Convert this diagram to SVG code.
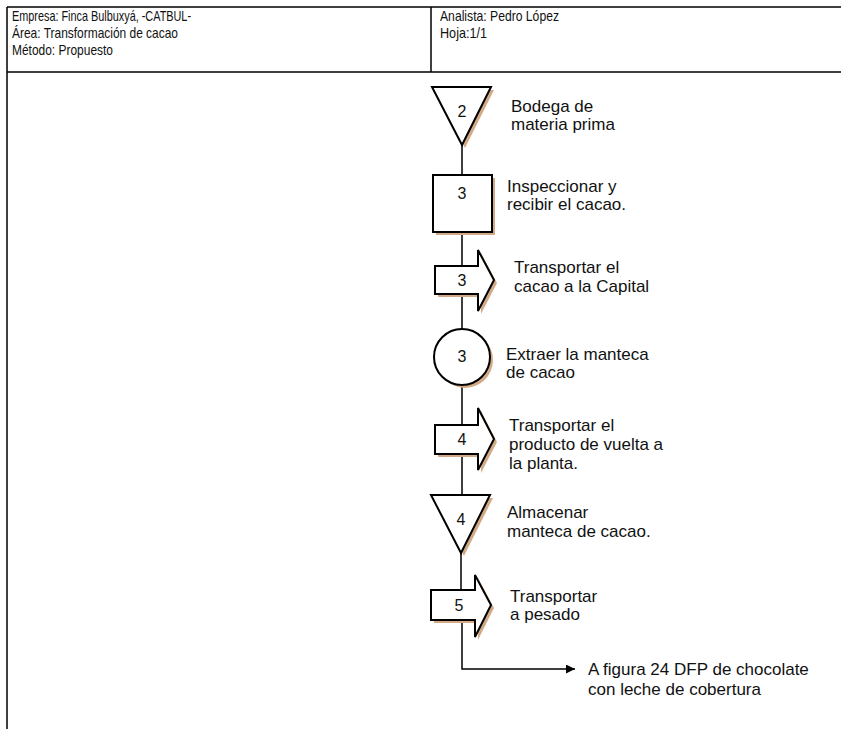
<svg xmlns="http://www.w3.org/2000/svg" width="841" height="729" viewBox="0 0 841 729">
<defs>
<style>
.frame{stroke:#000;stroke-width:1.5;fill:none}
.hdr{font-family:"Liberation Sans",Arial,sans-serif;font-size:14.5px;fill:#111}
.lbl{font-family:"Liberation Sans",Arial,sans-serif;font-size:17px;fill:#111}
.num{font-family:"Liberation Sans",Arial,sans-serif;font-size:16px;fill:#111;text-anchor:middle}
.shape{fill:#fff;stroke:#000;stroke-width:2}
.shadow{fill:#d2aa86;stroke:none}
.conn{stroke:#000;stroke-width:1.5;fill:none}
</style>
<marker id="ah" viewBox="0 0 10 10" refX="10" refY="5" markerWidth="9" markerHeight="9" markerUnits="userSpaceOnUse" orient="auto">
<path d="M0,0 L10,5 L0,10 z" fill="#000"/>
</marker>
</defs>
<rect width="841" height="729" fill="#fff"/>
<g id="header">
<path class="frame" d="M7,7 H841 M7,72 H841 M7,7 V729 M431,7 V72"/>
<text class="hdr" x="12" y="21" textLength="179" lengthAdjust="spacingAndGlyphs">Empresa: Finca Bulbuxyá, -CATBUL-</text>
<text class="hdr" x="12" y="38" textLength="166" lengthAdjust="spacingAndGlyphs">Área: Transformación de cacao</text>
<text class="hdr" x="12" y="55" textLength="101" lengthAdjust="spacingAndGlyphs">Método: Propuesto</text>
<text class="hdr" x="440" y="21" textLength="119" lengthAdjust="spacingAndGlyphs">Analista: Pedro López</text>
<text class="hdr" x="440" y="38" textLength="47" lengthAdjust="spacingAndGlyphs">Hoja:1/1</text>
</g>
<g id="connectors">
<path class="conn" d="M462,145 V175 M462,232 V266 M462,294 V329 M462,385 V425 M462,454 V495 M461,553 V590"/>
<path class="conn" d="M462,620 V669 H575" marker-end="url(#ah)"/>
</g>
<g id="n1">
<path class="shadow" d="M435,90 H494 L465,148 z"/>
<path class="shape" d="M432,87 H491 L462,145 z"/>
<text class="num" x="462" y="117">2</text>
<text class="lbl" x="511" y="112">Bodega de</text>
<text class="lbl" x="511" y="130">materia prima</text>
</g>
<g id="n2">
<rect class="shadow" x="436" y="178" width="59" height="57"/>
<rect class="shape" x="433" y="175" width="59" height="57"/>
<text class="num" x="462" y="199">3</text>
<text class="lbl" x="507" y="192">Inspeccionar y</text>
<text class="lbl" x="507" y="210">recibir el cacao.</text>
</g>
<g id="n3">
<path class="shadow" d="M438,269 H481 V253 L497,283 L481,314 V297 H438 z"/>
<path class="shape" d="M435,266 H478 V250 L494,280 L478,311 V294 H435 z"/>
<text class="num" x="462" y="286">3</text>
<text class="lbl" x="514" y="273">Transportar el</text>
<text class="lbl" x="514" y="292">cacao a la Capital</text>
</g>
<g id="n4">
<circle class="shadow" cx="465" cy="360" r="28"/>
<circle class="shape" cx="462" cy="357" r="28"/>
<text class="num" x="462" y="362">3</text>
<text class="lbl" x="506" y="360">Extraer la manteca</text>
<text class="lbl" x="506" y="378">de cacao</text>
</g>
<g id="n5">
<path class="shadow" d="M438,428 H481 V411 L497,442 L481,473 V457 H438 z"/>
<path class="shape" d="M435,425 H478 V408 L494,439 L478,470 V454 H435 z"/>
<text class="num" x="462" y="445">4</text>
<text class="lbl" x="509" y="431">Transportar el</text>
<text class="lbl" x="509" y="450">producto de vuelta a</text>
<text class="lbl" x="509" y="469">la planta.</text>
</g>
<g id="n6">
<path class="shadow" d="M434,498 H493 L464,556 z"/>
<path class="shape" d="M431,495 H490 L461,553 z"/>
<text class="num" x="461" y="525">4</text>
<text class="lbl" x="507" y="518">Almacenar</text>
<text class="lbl" x="507" y="537">manteca de cacao.</text>
</g>
<g id="n7">
<path class="shadow" d="M434,593 H478 V578 L494,608 L478,640 V623 H434 z"/>
<path class="shape" d="M431,590 H475 V575 L491,605 L475,637 V620 H431 z"/>
<text class="num" x="459" y="611">5</text>
<text class="lbl" x="510" y="602">Transportar</text>
<text class="lbl" x="510" y="620">a pesado</text>
</g>
<g id="n8">
<text class="lbl" x="588" y="675">A figura 24 DFP de chocolate</text>
<text class="lbl" x="588" y="695">con leche de cobertura</text>
</g>
</svg>
